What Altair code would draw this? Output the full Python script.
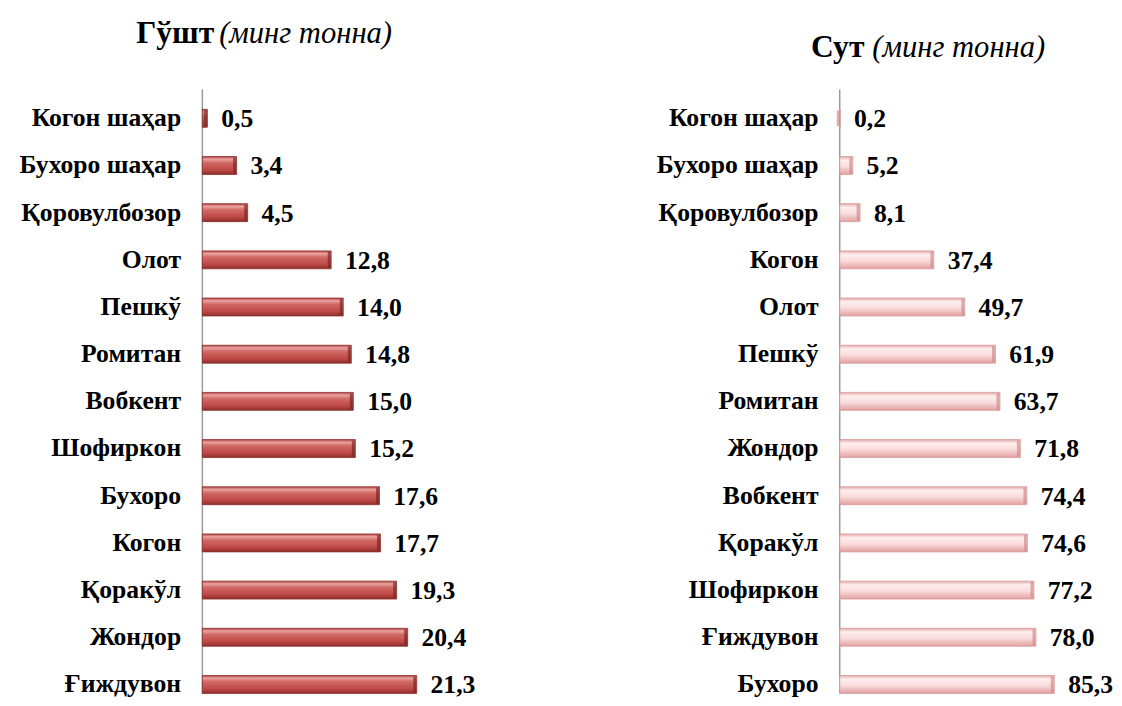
import altair as alt
import pandas as pd

# ---- data ----
meat_regions = ["Когон шаҳар", "Бухоро шаҳар", "Қоровулбозор", "Олот", "Пешкў", "Ромитан",
                "Вобкент", "Шофиркон", "Бухоро", "Когон", "Қоракўл", "Жондор", "Ғиждувон"]
meat_values = [0.5, 3.4, 4.5, 12.8, 14.0, 14.8, 15.0, 15.2, 17.6, 17.7, 19.3, 20.4, 21.3]

milk_regions = ["Когон шаҳар", "Бухоро шаҳар", "Қоровулбозор", "Когон", "Олот", "Пешкў",
                "Ромитан", "Жондор", "Вобкент", "Қоракўл", "Шофиркон", "Ғиждувон", "Бухоро"]
milk_values = [0.2, 5.2, 8.1, 37.4, 49.7, 61.9, 63.7, 71.8, 74.4, 74.6, 77.2, 78.0, 85.3]

titles_bold = ["Гўшт", "Сут"]
title_unit = "(минг тонна)"

FONT = "Liberation Serif"
W = 255
H = 592


def grad(stops):
    return alt.Gradient(
        gradient="linear", x1=0, x2=0, y1=0, y2=1,
        stops=[alt.GradientStop(color=c, offset=o) for o, c in stops],
    )


red = grad([(0, "#b5423f"), (0.15, "#e9a3a0"), (0.35, "#d06965"),
            (0.75, "#bf4845"), (1, "#8c2e2b")])
pink = grad([(0, "#e6aaaa"), (0.2, "#fdeeee"), (0.55, "#fadcdc"),
             (1, "#e2a0a0")])


def panel(regions, values, dom_max, fill, stroke, cap, tbold, bold_right, unit_left, title_y):
    df = pd.DataFrame({
        "region": regions,
        "value": values,
        "label": [f"{v:.1f}".replace(".", ",") for v in values],
    })
    ysc = alt.Scale(paddingInner=0.62, paddingOuter=0)
    y = alt.Y("region:N", sort=regions, scale=ysc,
              axis=alt.Axis(title=None, ticks=False, domain=False, labelPadding=22,
                            labelFont=FONT, labelFontWeight="bold", labelFontSize=26,
                            labelColor="black", labelLimit=300))
    x = alt.X("value:Q", scale=alt.Scale(domain=[0, dom_max]), axis=None)
    base = alt.Chart(df)
    bars = base.mark_bar(color=fill, stroke=stroke, strokeWidth=0.8).encode(x=x, y=y)
    ends = base.mark_tick(color=cap, thickness=3, size=16, xOffset=-2, opacity=0.7).encode(
        x=x, y=y)
    text = base.mark_text(align="left", baseline="middle", dx=14, dy=1, font=FONT,
                          fontWeight="bold", fontSize=26, color="black").encode(
        x=x, y=y, text="label:N")
    axis_line = alt.Chart(pd.DataFrame({"a": [0]})).mark_rule(
        color="#9a9a9a", strokeWidth=1.5).encode(
        x=alt.value(0), y=alt.value(-20), y2=alt.value(H))
    tdf = pd.DataFrame({"b": [tbold], "u": [title_unit]})
    t1 = alt.Chart(tdf).mark_text(align="right", baseline="alphabetic", font=FONT,
                                  fontWeight="bold", fontSize=32, color="black").encode(
        x=alt.value(bold_right), y=alt.value(title_y), text="b:N")
    t2 = alt.Chart(tdf).mark_text(align="left", baseline="alphabetic", font=FONT,
                                  fontStyle="italic", fontSize=31, color="black").encode(
        x=alt.value(unit_left), y=alt.value(title_y), text="u:N")
    return alt.layer(axis_line, bars, ends, text, t1, t2).properties(width=W, height=H)


left = panel(meat_regions, meat_values, 25, red, "#8a2e2b", "#7a2624",
             titles_bold[0], 12, 17, -67)
right = panel(milk_regions, milk_values, 100, pink, "#d79a9a", "#d08c8c",
              titles_bold[1], 25, 33, -53)

chart = alt.hconcat(left, right, spacing=183).properties(
    padding={"left": 11, "top": 5, "right": 0, "bottom": 0}
).configure_view(stroke=None)

chart.save("out.html", embed_options={"renderer": "svg", "actions": False})
